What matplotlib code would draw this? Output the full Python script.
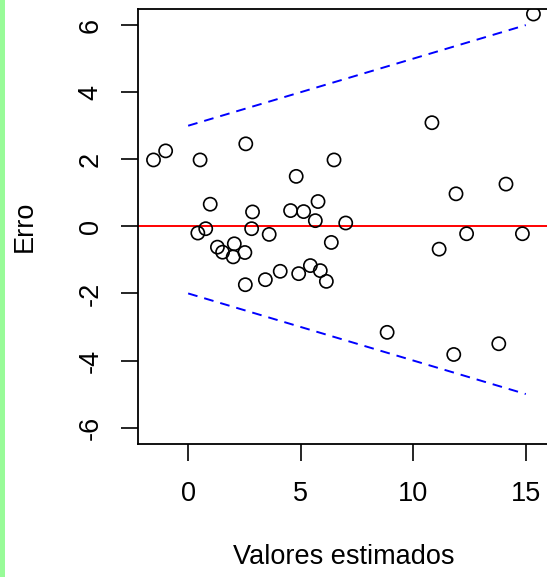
import matplotlib
matplotlib.use("Agg")
import matplotlib.pyplot as plt
from matplotlib.patches import Rectangle

# fitted values (x) and residuals (y)
estimados = [-1.54, -1.0, 0.53, 2.56, 0.98, 2.86, 0.78, 0.43, 2.82, 3.6,
             1.3, 1.53, 2.05, 2.0, 2.52, 2.54, 3.43, 4.09, 6.48, 4.8,
             5.77, 4.55, 5.13, 5.65, 7.0, 6.36, 4.91, 5.43, 5.87, 6.14,
             10.83, 11.9, 14.12, 12.37, 14.85, 11.15, 8.84, 11.8, 13.8, 15.34]
erro = [1.98, 2.25, 1.98, 2.46, 0.66, 0.43, -0.07, -0.2, -0.07, -0.24,
        -0.62, -0.77, -0.52, -0.91, -0.78, -1.74, -1.59, -1.34, 1.98, 1.49,
        0.74, 0.47, 0.44, 0.17, 0.1, -0.48, -1.41, -1.17, -1.32, -1.64,
        3.09, 0.97, 1.26, -0.22, -0.22, -0.68, -3.16, -3.82, -3.5, 6.33]

# funnel guide lines
guia_x = [0, 15]
guia_sup = [3, 6]
guia_inf = [-2, -5]

x_ticks = [0, 5, 10, 15]
y_ticks = [-6, -4, -2, 0, 2, 4, 6]

W, H = 547, 577
plt.rcParams["font.family"] = ["Liberation Sans", "DejaVu Sans"]

fig = plt.figure(figsize=(W / 100, H / 100), dpi=100)
fig.patches.append(Rectangle((0, 0), 5 / W, 1, transform=fig.transFigure,
                             facecolor="#98fb98", edgecolor="none"))

left, right = 138.3 / W, 548.3 / W
bottom, top = (H - 443.7) / H, (H - 9) / H
ax = fig.add_axes([left, bottom, right - left, top - bottom])

ax.scatter(estimados, erro, s=90, facecolors="none", edgecolors="black",
           linewidths=1.2, zorder=3)
ax.axhline(0, color="red", lw=1.4, zorder=2)
ax.plot(guia_x, guia_sup, color="blue", lw=1.4, dashes=(5, 3.6))
ax.plot(guia_x, guia_inf, color="blue", lw=1.4, dashes=(5, 3.6))

ax.set_xlim(-2.215, 16.0)
ax.set_ylim(-6.48, 6.48)
ax.set_xticks(x_ticks)
ax.set_yticks(y_ticks)
ax.set_yticklabels([str(v) for v in y_ticks], rotation=90, va="center")
ax.tick_params(length=12, width=1.2, labelsize=19.5, pad=15)
ax.tick_params(axis="y", pad=13)
for sp in ax.spines.values():
    sp.set_linewidth(1.3)

fig.text(344 / W, 1 - 557 / H, "Valores estimados", ha="center", va="center",
         fontsize=19.5)
fig.text(25 / W, 1 - 226 / H, "Erro", ha="center", va="center",
         rotation=90, fontsize=19.5)

fig.savefig("out.png", dpi=100)
